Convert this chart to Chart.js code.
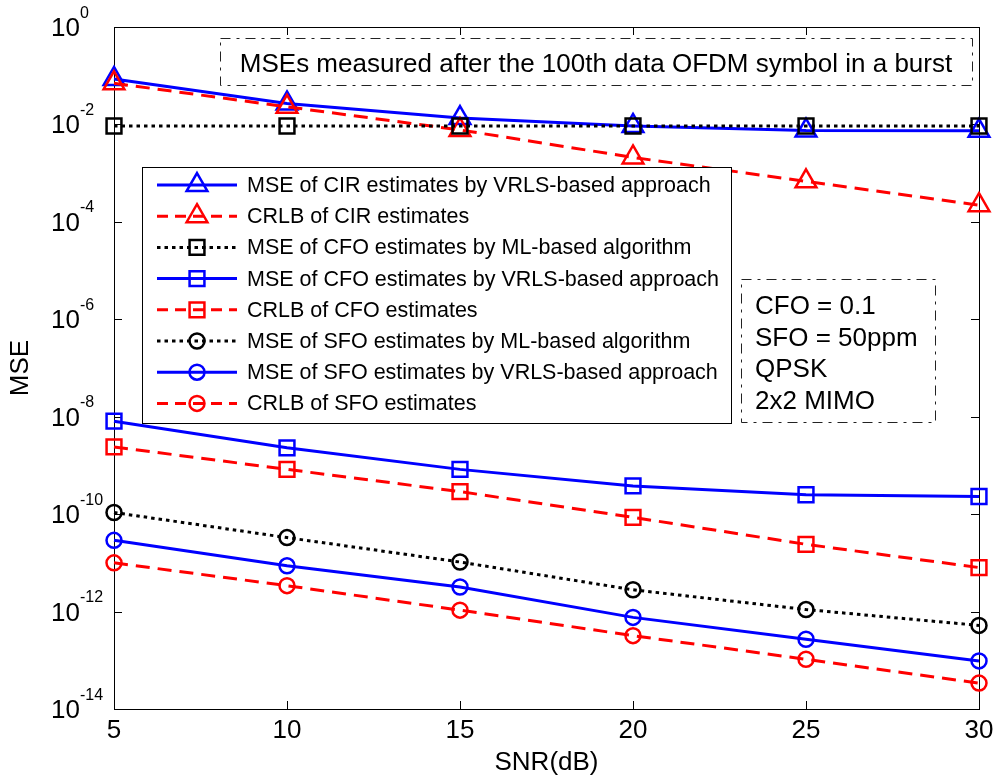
<!DOCTYPE html>
<html>
<head>
<meta charset="utf-8">
<script src="https://cdn.jsdelivr.net/npm/chart.js@4.4.1/dist/chart.umd.min.js"></script>
<style>
  html, body { margin: 0; padding: 0; background: #fff; }
  #wrap { width: 995px; height: 782px; }
</style>
</head>
<body>
<div id="wrap"><canvas id="mseChart" width="995" height="782"></canvas></div>
<script>
const FONT = "'Liberation Sans', Arial, Helvetica, sans-serif";

// x axis (SNR in dB)
const snr = [5, 10, 15, 20, 25, 30];
// y axis decades that get a label: 10^0 ... 10^-14
const decades = [0, -2, -4, -6, -8, -10, -12, -14];

// series values
const cirVrls = [0.086, 0.027, 0.0135, 0.0093, 0.0075, 0.0074];
const cirCrlb = [0.070, 0.023, 0.0077, 0.0021, 6.8e-4, 2.2e-4];
const cfoMl   = [0.0093, 0.0093, 0.0093, 0.0093, 0.0093, 0.0093];
const cfoVrls = [8.1e-9, 2.3e-9, 8.3e-10, 3.8e-10, 2.5e-10, 2.3e-10];
const cfoCrlb = [2.4e-9, 8.3e-10, 2.9e-10, 8.6e-11, 2.4e-11, 8.0e-12];
const sfoMl   = [1.08e-10, 3.3e-11, 1.04e-11, 2.8e-12, 1.1e-12, 5.2e-13];
const sfoVrls = [2.9e-11, 8.7e-12, 3.2e-12, 7.6e-13, 2.7e-13, 9.7e-14];
const sfoCrlb = [1.0e-11, 3.4e-12, 1.07e-12, 3.2e-13, 1.05e-13, 3.4e-14];

const BLUE = '#0000ff', RED = '#ff0000', BLACK = '#000000';
const SOLID = [], DASH = [14, 8], DOT = [3.5, 4];

const series = [
  { label: 'MSE of CIR estimates by VRLS-based approach', data: cirVrls, color: BLUE,  dash: SOLID, marker: 'triangle', r: 12 },
  { label: 'CRLB of CIR estimates',                        data: cirCrlb, color: RED,   dash: DASH,  marker: 'triangle', r: 12 },
  { label: 'MSE of CFO estimates by ML-based algorithm',   data: cfoMl,   color: BLACK, dash: DOT,   marker: 'rect',     r: 10.5 },
  { label: 'MSE of CFO estimates by VRLS-based approach',  data: cfoVrls, color: BLUE,  dash: SOLID, marker: 'rect',     r: 10.5 },
  { label: 'CRLB of CFO estimates',                        data: cfoCrlb, color: RED,   dash: DASH,  marker: 'rect',     r: 10.5 },
  { label: 'MSE of SFO estimates by ML-based algorithm',   data: sfoMl,   color: BLACK, dash: DOT,   marker: 'circle',   r: 7.5 },
  { label: 'MSE of SFO estimates by VRLS-based approach',  data: sfoVrls, color: BLUE,  dash: SOLID, marker: 'circle',   r: 7.5 },
  { label: 'CRLB of SFO estimates',                        data: sfoCrlb, color: RED,   dash: DASH,  marker: 'circle',   r: 7.5 }
];

const noteLines = ['CFO = 0.1', 'SFO = 50ppm', 'QPSK', '2x2 MIMO'];
const topNote = 'MSEs measured after the 100th data OFDM symbol in a burst';

// small marker painter for the legend samples
function marker(ctx, style, x, y, r) {
  ctx.beginPath();
  if (style === 'triangle') {
    ctx.moveTo(x, y - r);
    ctx.lineTo(x + r * Math.sin(2 * Math.PI / 3), y - r * Math.cos(2 * Math.PI / 3));
    ctx.lineTo(x + r * Math.sin(4 * Math.PI / 3), y - r * Math.cos(4 * Math.PI / 3));
    ctx.closePath();
  } else if (style === 'rect') {
    const h = r * Math.SQRT1_2;
    ctx.rect(x - h, y - h, 2 * h, 2 * h);
  } else {
    ctx.arc(x, y, r, 0, Math.PI * 2);
  }
  ctx.stroke();
}

// axes box, inward ticks and 10^n labels
const frame = {
  id: 'frame',
  beforeDatasetsDraw(chart) {
    const { ctx, chartArea: a, scales: { x, y } } = chart;
    ctx.save();
    ctx.strokeStyle = '#000';
    ctx.lineWidth = 1;
    ctx.setLineDash([]);
    ctx.strokeRect(a.left + 0.5, a.top + 0.5, a.right - a.left, a.bottom - a.top);
    ctx.beginPath();
    snr.forEach(v => {
      const px = Math.round(x.getPixelForValue(v)) + 0.5;
      ctx.moveTo(px, a.bottom); ctx.lineTo(px, a.bottom - 8);
      ctx.moveTo(px, a.top); ctx.lineTo(px, a.top + 8);
    });
    decades.forEach(e => {
      const py = Math.round(y.getPixelForValue(Math.pow(10, e))) + 0.5;
      ctx.moveTo(a.left, py); ctx.lineTo(a.left + 8, py);
      ctx.moveTo(a.right, py); ctx.lineTo(a.right - 8, py);
    });
    ctx.stroke();

    ctx.fillStyle = '#000';
    ctx.textBaseline = 'alphabetic';
    decades.forEach(e => {
      const py = y.getPixelForValue(Math.pow(10, e));
      ctx.font = '26px ' + FONT;
      ctx.textAlign = 'right';
      ctx.fillText('10', 80, py + 9);
      ctx.font = '16px ' + FONT;
      ctx.textAlign = 'left';
      ctx.fillText(String(e), 80, py - 9.5);
    });
    ctx.restore();
  },
  afterDatasetsDraw(chart) {
    const ctx = chart.ctx;
    ctx.save();

    // legend
    ctx.fillStyle = '#fff';
    ctx.fillRect(142, 167, 589, 256);
    ctx.strokeStyle = '#000';
    ctx.lineWidth = 1;
    ctx.setLineDash([]);
    ctx.strokeRect(142.5, 167.5, 589, 256);
    series.forEach((s, i) => {
      const ry = 185 + i * 31.2;
      ctx.strokeStyle = s.color;
      ctx.lineWidth = 3;
      ctx.setLineDash(s.dash === DASH ? [11, 7] : s.dash);
      ctx.beginPath();
      ctx.moveTo(157, ry); ctx.lineTo(237, ry);
      ctx.stroke();
      ctx.setLineDash([]);
      ctx.lineWidth = 2.5;
      marker(ctx, s.marker, 197, ry, s.r);
      ctx.fillStyle = '#000';
      ctx.font = '21.5px ' + FONT;
      ctx.textAlign = 'left';
      ctx.textBaseline = 'middle';
      ctx.fillText(s.label, 247, ry + 1);
    });

    // dash-dot text boxes
    ctx.strokeStyle = '#222';
    ctx.lineWidth = 1;
    ctx.setLineDash([10, 6, 3, 6]);
    ctx.strokeRect(220.5, 38.5, 752, 47);
    ctx.strokeRect(741.5, 279.5, 194, 143);
    ctx.setLineDash([]);
    ctx.fillStyle = '#000';
    ctx.textBaseline = 'alphabetic';
    ctx.font = '26px ' + FONT;
    ctx.textAlign = 'center';
    ctx.fillText(topNote, 596, 72);
    ctx.textAlign = 'left';
    noteLines.forEach((t, i) => ctx.fillText(t, 755, 314 + i * 31.7));
    ctx.restore();
  }
};

new Chart(document.getElementById('mseChart'), {
  type: 'line',
  data: {
    datasets: series.map((s, i) => ({
      label: s.label,
      data: s.data.map((v, k) => ({ x: snr[k], y: v })),
      borderColor: s.color,
      backgroundColor: 'rgba(0,0,0,0)',
      borderWidth: 3,
      borderDash: s.dash,
      pointStyle: s.marker,
      pointRadius: s.r,
      pointBorderWidth: 2.5,
      pointBorderColor: s.color,
      pointBackgroundColor: 'rgba(0,0,0,0)',
      tension: 0,
      clip: false,
      order: series.length - i
    }))
  },
  options: {
    responsive: false,
    animation: false,
    layout: { padding: { top: 27, right: 16, left: 0, bottom: 0 } },
    plugins: { legend: { display: false }, tooltip: { enabled: false } },
    scales: {
      x: {
        type: 'linear', min: 5, max: 30,
        ticks: { stepSize: 5, color: '#000', font: { family: FONT, size: 26 }, padding: 6, maxRotation: 0 },
        grid: { display: false, drawTicks: false },
        border: { display: false },
        title: { display: true, text: 'SNR(dB)', color: '#000', font: { family: FONT, size: 26 }, padding: { top: 0, bottom: 4 } },
        afterFit(s) { s.height = 73; s.paddingLeft = 0; s.paddingRight = 0; }
      },
      y: {
        type: 'logarithmic', min: 1e-14, max: 1,
        afterBuildTicks(s) { s.ticks = decades.map(e => ({ value: Math.pow(10, e) })); },
        ticks: { display: false },
        grid: { display: false, drawTicks: false },
        border: { display: false },
        title: { display: true, text: 'MSE', color: '#000', font: { family: FONT, size: 26 }, padding: { top: 5, bottom: 0 } },
        afterFit(s) { s.width = 114; }
      }
    }
  },
  plugins: [frame]
});
</script>
</body>
</html>
